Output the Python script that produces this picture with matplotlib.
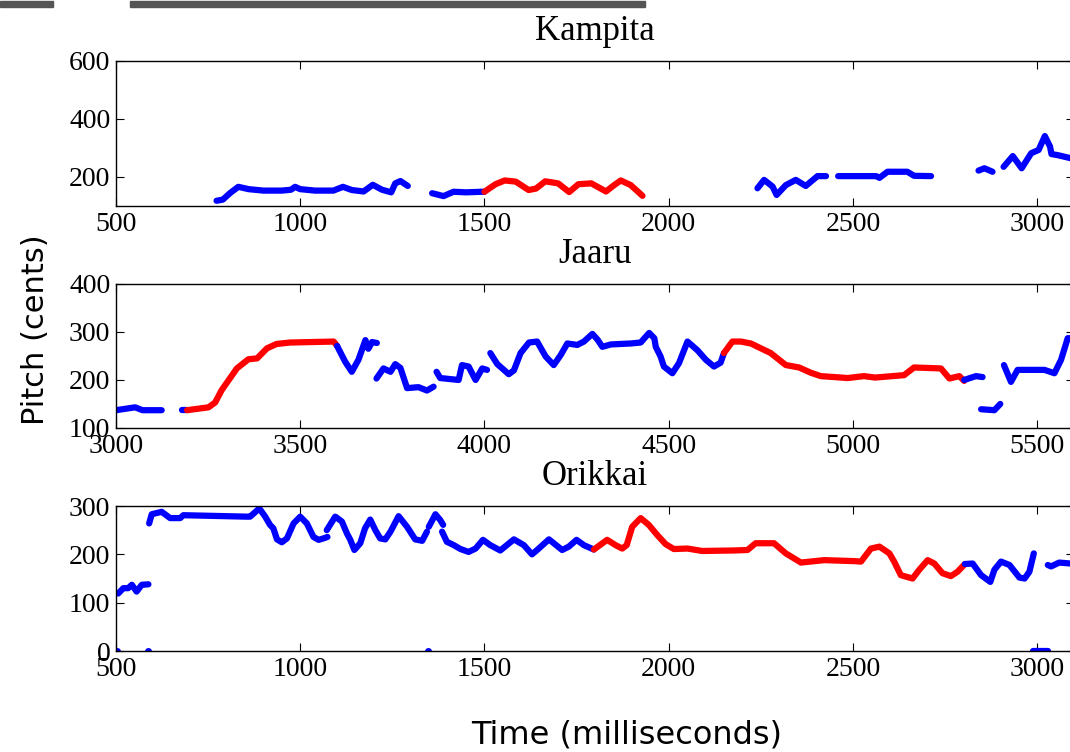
import numpy as np
import matplotlib
matplotlib.use('Agg')
import matplotlib.pyplot as plt
from matplotlib.patches import Rectangle

# pitch contours: one list per contour piece
kampita_times = [
    [773, 790, 810, 832, 860, 900, 950, 975, 986, 1000, 1040, 1090, 1116, 1140, 1172, 1197, 1222, 1247, 1258, 1272, 1292],
    [1358, 1389, 1416, 1450, 1493, 1500],
    [1500, 1530, 1555, 1585, 1620, 1640, 1665, 1700, 1730, 1755, 1790, 1830, 1850, 1870, 1897, 1929],
    [2241, 2259, 2282, 2293, 2318, 2345, 2372, 2404, 2427],
    [2460, 2563, 2572, 2594, 2648, 2666, 2712],
    [2841, 2857, 2879],
    [2909, 2934, 2958, 2984, 3004, 3021, 3035, 3039, 3057, 3100],
]
kampita_pitch = [
    [118, 122, 145, 166, 158, 153, 153, 156, 166, 158, 153, 153, 166, 155, 150, 173, 156, 147, 178, 186, 169],
    [144, 134, 149, 147, 149, 149],
    [149, 175, 188, 184, 155, 160, 185, 178, 148, 175, 178, 150, 170, 188, 172, 135],
    [161, 190, 167, 138, 172, 190, 169, 203, 203],
    [203, 203, 197, 218, 218, 204, 203],
    [222, 230, 218],
    [235, 272, 230, 282, 293, 341, 305, 279, 275, 262],
]
kampita_colors = ['b', 'b', 'r', 'b', 'b', 'b', 'b']

jaaru_times = [
    [3000, 3052, 3072, 3124],
    [3178, 3193],
    [3193, 3251, 3269, 3287, 3328, 3359, 3383, 3410, 3436, 3473, 3591, 3600],
    [3600, 3622, 3640, 3658, 3677, 3685, 3695, 3708],
    [3707, 3726, 3745, 3758, 3772, 3790, 3821, 3844, 3862],
    [3870, 3880, 3930, 3939, 3957, 3976, 3994, 4007],
    [4016, 4035, 4066, 4080, 4098, 4121, 4143, 4166, 4188, 4207, 4225, 4252, 4270, 4293, 4307, 4320,
     4343, 4397, 4424, 4447, 4461, 4465, 4478, 4487, 4510, 4528, 4551, 4578, 4601, 4623, 4641, 4650],
    [4650, 4673, 4696, 4723, 4777, 4818, 4854, 4886, 4913, 4986, 5030, 5060, 5139, 5166, 5239, 5262, 5289, 5302],
    [5302, 5334, 5352],
    [5348, 5384, 5400],
    [5410, 5429, 5447, 5520, 5547, 5565, 5583, 5600],
]
jaaru_pitch = [
    [137, 143, 137, 137],
    [137, 137],
    [137, 143, 153, 179, 224, 243, 245, 266, 275, 278, 280, 271],
    [271, 238, 217, 242, 283, 265, 279, 277],
    [203, 224, 217, 233, 225, 183, 185, 178, 186],
    [217, 204, 200, 231, 228, 200, 224, 221],
    [256, 233, 212, 220, 256, 278, 280, 249, 231, 252, 276, 273, 280, 296, 284, 269,
     274, 276, 278, 298, 287, 269, 249, 228, 214, 235, 280, 262, 242, 228, 236, 256],
    [256, 280, 280, 276, 256, 231, 226, 215, 208, 204, 208, 205, 210, 226, 224, 203, 208, 198],
    [200, 208, 206],
    [139, 137, 150],
    [231, 196, 221, 221, 214, 242, 287, 287],
]
jaaru_colors = ['b', 'b', 'r', 'b', 'b', 'b', 'b', 'r', 'b', 'b', 'b']

orikkai_times = [
    [506, 520, 533, 543, 556, 570, 588],
    [590, 597, 624, 647, 674, 683, 855, 864, 889, 905, 918, 927, 937, 950, 964, 982, 1000, 1018, 1036,
     1050, 1063, 1074],
    [1072, 1095, 1113, 1127, 1136, 1147, 1163, 1176, 1190, 1204, 1217, 1231, 1245, 1267, 1290, 1312,
     1331, 1344],
    [1349, 1367, 1380, 1388],
    [1385, 1398, 1417, 1435, 1457, 1476, 1496, 1516, 1543, 1580, 1607, 1629, 1643, 1675, 1711, 1729,
     1750, 1770, 1797],
    [1797, 1833, 1856, 1874, 1886, 1901, 1924, 1946, 1969, 1992, 2014, 2051, 2091, 2177, 2214, 2236,
     2286, 2318, 2359, 2422, 2504, 2522, 2549, 2572, 2599, 2612, 2630, 2662, 2680, 2703, 2721, 2743,
     2766, 2784, 2804],
    [2804, 2825, 2848, 2873, 2884, 2902, 2925, 2952, 2966, 2979, 2991],
    [3029, 3038, 3060, 3091, 3100],
    [2990, 3030],
]
orikkai_pitch = [
    [119, 130, 130, 137, 123, 137, 138],
    [264, 283, 288, 275, 275, 281, 278, 278, 295, 278, 261, 254, 231, 225, 233, 264, 278, 264, 236,
     230, 233, 236],
    [250, 278, 268, 243, 230, 209, 223, 254, 272, 250, 233, 231, 247, 279, 257, 231,
     228, 247],
    [257, 283, 271, 261],
    [247, 226, 219, 211, 205, 212, 230, 219, 208, 231, 219, 200, 209, 231, 209, 216,
     230, 219, 210],
    [210, 230, 219, 212, 219, 257, 275, 261, 240, 221, 211, 212, 207, 208, 209, 223,
     223, 202, 183, 188, 186, 185, 212, 216, 202, 185, 157, 150, 168, 188, 181, 161,
     155, 164, 180],
    [180, 181, 157, 143, 168, 185, 178, 152, 150, 164, 202],
    [178, 175, 183, 181, 181],
    [0, 0],
]
orikkai_colors = ['b', 'b', 'b', 'b', 'b', 'r', 'b', 'b', 'b']
# single unvoiced frames at zero
orikkai_zero_t = [502, 588, 1347]
orikkai_zero_p = [0, 0, 0]

titles = ['Kampita', 'Jaaru', 'Orikkai']
xlims = [(500, 3100), (3000, 5600), (500, 3100)]
ylims = [(100, 600), (100, 400), (0, 300)]
yticks = [[200, 400, 600], [100, 200, 300, 400], [0, 100, 200, 300]]

serif = ['Liberation Serif', 'DejaVu Serif']

fig = plt.figure(figsize=(10.7, 7.52), dpi=100)
bottoms = [0.7261, 0.4309, 0.1343]
heights = [0.1928, 0.1915, 0.1928]

panels = [(kampita_times, kampita_pitch, kampita_colors),
          (jaaru_times, jaaru_pitch, jaaru_colors),
          (orikkai_times, orikkai_pitch, orikkai_colors)]

for i in range(3):
    ax = fig.add_axes([0.1084, bottoms[i], 0.8953, heights[i]])
    tt, pp, cc = panels[i]
    for t, p, c in zip(tt, pp, cc):
        ax.plot(t, p, '-', color=c, lw=4.5, solid_capstyle='round', solid_joinstyle='round')
    if i == 2:
        ax.plot(orikkai_zero_t, orikkai_zero_p, 'o', color='b', ms=4)
    ax.set_xlim(xlims[i])
    ax.set_ylim(ylims[i])
    ax.set_yticks(yticks[i])
    ax.set_xticks(np.arange(xlims[i][0], xlims[i][1], 500))
    ax.tick_params(direction='in', top=True, right=True, length=6, width=0.8,
                   labelsize=20, pad=4)
    for lab in ax.get_xticklabels() + ax.get_yticklabels():
        lab.set_family(serif)
    for s in ax.spines.values():
        s.set_linewidth(1.0)
    ax.set_title(titles[i], fontsize=25, family=serif, pad=15)

fig.text(0.033, 0.561, 'Pitch (cents)', rotation=90, fontsize=22,
         ha='center', va='center', family='DejaVu Sans')
fig.text(0.586, 0.022, 'Time (milliseconds)', fontsize=23,
         ha='center', va='center', family='DejaVu Sans')

# grey slide bars at the very top
fig.patches.append(Rectangle((0.0, 0.9907), 0.0495, 0.008, transform=fig.transFigure,
                             color='#555555', zorder=5))
fig.patches.append(Rectangle((0.1215, 0.9907), 0.481, 0.008, transform=fig.transFigure,
                             color='#555555', zorder=5))

plt.savefig('out.png', dpi=100)
